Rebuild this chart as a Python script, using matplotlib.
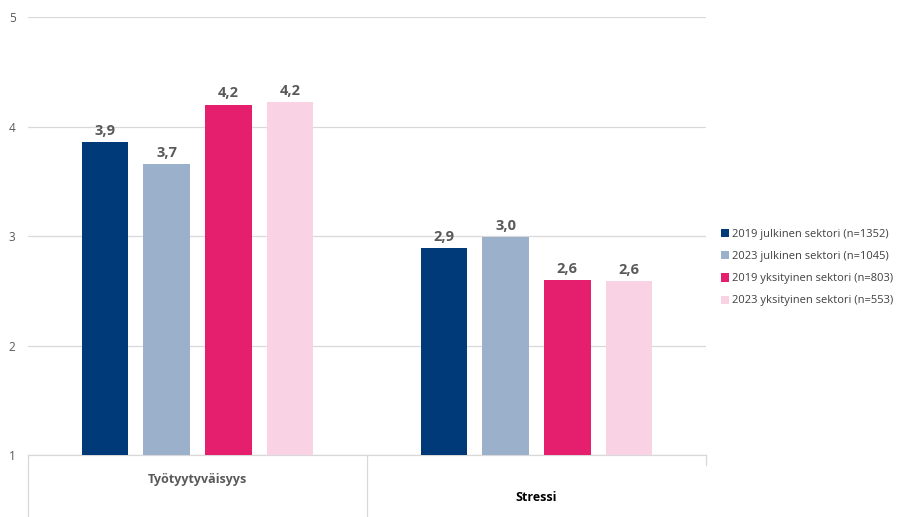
import numpy as np
import matplotlib
matplotlib.use("Agg")
import matplotlib.pyplot as plt

plt.rcParams["font.family"] = ["Open Sans", "Lato", "DejaVu Sans"]

categories = ["Työtyytyväisyys", "Stressi"]
series = ["2019 julkinen sektori (n=1352)", "2023 julkinen sektori (n=1045)",
          "2019 yksityinen sektori (n=803)", "2023 yksityinen sektori (n=553)"]
values = [
    [3.86, 2.89],
    [3.66, 2.99],
    [4.20, 2.60],
    [4.22, 2.59],
]
colors = ["#003A78", "#9BB1CB", "#E61E6E", "#F9D3E3"]
y_ticks = [1, 2, 3, 4, 5]

fig = plt.figure(figsize=(8.99, 5.17), dpi=100)
ax = fig.add_axes([0.0311, 0.1199, 0.7542, 0.8471])

x = np.arange(len(categories))
width = 0.138
step = 0.182
base = 1
for i, (name, vals, c) in enumerate(zip(series, values, colors)):
    pos = x + (i - 1.5) * step
    heights = [v - base for v in vals]
    bars = ax.bar(pos, heights, width, bottom=base, color=c, label=name, zorder=3)
    for b, v in zip(bars, vals):
        ax.annotate(f"{v:.1f}".replace(".", ","), (b.get_x() + b.get_width() / 2, v),
                    xytext=(0, 3), textcoords="offset points", ha="center", va="bottom",
                    fontsize=10.5, fontweight="bold", color="#595959")

ax.set_ylim(1, 5)
ax.set_xlim(-0.5, 1.5)
ax.set_yticks(y_ticks)
ax.set_yticklabels([str(t) for t in y_ticks])
ax.tick_params(axis="y", length=0, labelsize=8.5, labelcolor="#595959", pad=9)
ax.set_xticks([])
ax.yaxis.grid(True, color="#D9D9D9", linewidth=0.9, zorder=0)
for s in ["top", "right", "left"]:
    ax.spines[s].set_visible(False)
ax.spines["bottom"].set_color("#D9D9D9")
ax.spines["bottom"].set_linewidth(0.9)

# category separators below the axis
tr = ax.get_xaxis_transform()
for xs, ylo in [(-0.5, -0.15), (0.5, -0.15), (1.5, -0.022)]:
    ax.plot([xs, xs], [0, ylo], transform=tr, color="#D9D9D9", linewidth=0.9, clip_on=False)

ax.text(0, -0.055, categories[0], transform=tr, ha="center", va="center",
        fontsize=9, fontweight="bold", color="#595959")
ax.text(1, -0.097, categories[1], transform=tr, ha="center", va="center",
        fontsize=9, fontweight="bold", color="black")

fig.legend(loc="center left", bbox_to_anchor=(0.791, 0.482), frameon=False,
           fontsize=8, labelcolor="#404040", handlelength=0.75, handleheight=0.75,
           handletextpad=0.25, labelspacing=1.0)

fig.savefig("out.png", dpi=100)
